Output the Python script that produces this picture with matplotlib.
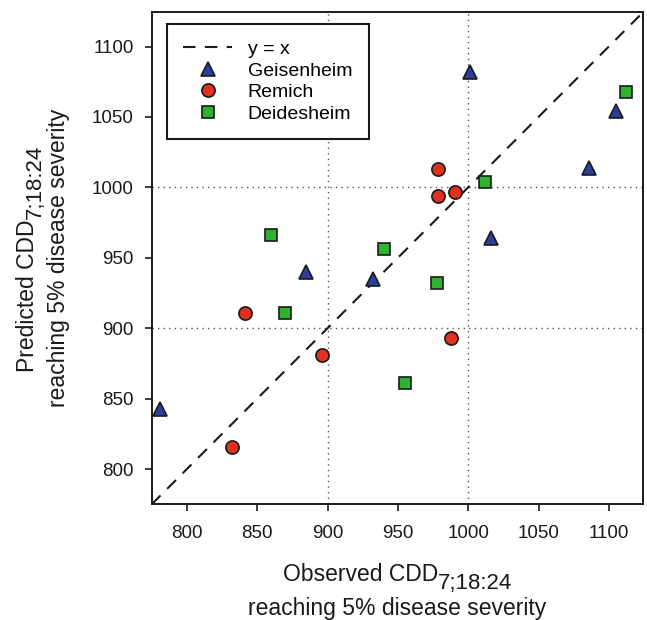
import matplotlib
matplotlib.use("Agg")
import matplotlib.pyplot as plt
from matplotlib.transforms import IdentityTransform

plt.rcParams['font.family'] = ['Liberation Sans', 'DejaVu Sans']

# Data
geis_obs = [781, 885, 932, 1001, 1016, 1086, 1105]
geis_pred = [843, 940, 935, 1082, 964, 1013.5, 1054]
rem_obs = [832, 841, 896, 978.5, 978.5, 990.5, 988]
rem_pred = [816, 911, 881, 1013, 994, 997, 893]
deid_obs = [860, 870, 940, 955, 978, 1012, 1112]
deid_pred = [966, 911, 956, 861, 932, 1004, 1068]
ticks = [800, 850, 900, 950, 1000, 1050, 1100]
grid_vals = [900, 1000]
lims = (775, 1124.5)

W, H = 647, 620
fig = plt.figure(figsize=(W / 100, H / 100), dpi=100)
ax = fig.add_axes([151.7 / W, 1 - 504.3 / H, 491.6 / W, 492.3 / H])

for g in grid_vals:
    ax.axvline(g, color='#555555', lw=1.0, ls=(0, (1, 3)), zorder=1)
    ax.axhline(g, color='#555555', lw=1.0, ls=(0, (1, 3)), zorder=1)

ax.plot(lims, lims, color='#1a1a1a', lw=1.5, ls=(0, (6, 4.5)), zorder=2, label='y = x')

mk = dict(ls='none', markeredgecolor='#1a1a1a', markeredgewidth=1.2, zorder=3)
ax.plot(geis_obs, geis_pred, marker='^', ms=10.5, color='#2b3f98', label='Geisenheim', **mk)
ax.plot(rem_obs, rem_pred, marker='o', ms=9.5, color='#e2301f', label='Remich', **mk)
ax.plot(deid_obs, deid_pred, marker='s', ms=8, color='#2db32d', label='Deidesheim', **mk)

ax.set_xlim(lims)
ax.set_ylim(lims)
ax.set_xticks(ticks)
ax.set_yticks(ticks)
ax.tick_params(direction='out', length=5, width=1.2, labelsize=13.5,
               color='#1a1a1a', labelcolor='#1a1a1a')
ax.tick_params(axis='x', pad=10)
ax.tick_params(axis='y', pad=8)
for s in ax.spines.values():
    s.set_linewidth(1.4)
    s.set_color('#1a1a1a')

leg = ax.legend(loc='upper left', bbox_to_anchor=(0.031, 0.9756), borderaxespad=0,
                fontsize=14, frameon=True, fancybox=False, handlelength=2.5,
                handletextpad=0.8, borderpad=0.85, labelspacing=0.2)
leg.get_frame().set_edgecolor('#1a1a1a')
leg.get_frame().set_linewidth(1.5)
leg.get_frame().set_alpha(1)

# Axis labels with full-size subscripts (built from plain text pieces)
renderer = fig.canvas.get_renderer()
LAB = 16.5
SUB = 16.0
idt = IdentityTransform()
col = '#1a1a1a'
main_x, sub_txt, line2 = 'Observed CDD', '7;18:24', 'reaching 5% disease severity'
main_y = 'Predicted CDD'

cx = (151.7 + 643.3) / 2
cy = H - (12 + 504.3) / 2

# x label
t1 = fig.text(0, 0, main_x, fontsize=LAB, color=col, transform=idt, ha='left', va='baseline')
t2 = fig.text(0, 0, sub_txt, fontsize=SUB, color=col, transform=idt, ha='left', va='baseline')
w1 = t1.get_window_extent(renderer).width
w2 = t2.get_window_extent(renderer).width
x0 = cx - (w1 + w2) / 2
t1.set_position((x0, H - 581))
t2.set_position((x0 + w1, H - 589))
fig.text(cx, H - 614.5, line2, fontsize=LAB, color=col, transform=idt, ha='center', va='baseline')

# y label
r1 = fig.text(0, 0, main_y, fontsize=LAB, color=col, transform=idt, ha='left', va='baseline',
              rotation=90, rotation_mode='anchor')
r2 = fig.text(0, 0, sub_txt, fontsize=SUB, color=col, transform=idt, ha='left', va='baseline',
              rotation=90, rotation_mode='anchor')
h1 = r1.get_window_extent(renderer).height
h2 = r2.get_window_extent(renderer).height
y0 = cy - (h1 + h2) / 2
r1.set_position((34.5, y0))
r2.set_position((34.5 + 6, y0 + h1))
fig.text(65, cy, line2, fontsize=LAB, color=col, transform=idt, ha='center', va='baseline',
         rotation=90, rotation_mode='anchor')

fig.savefig('out.png', dpi=100)
